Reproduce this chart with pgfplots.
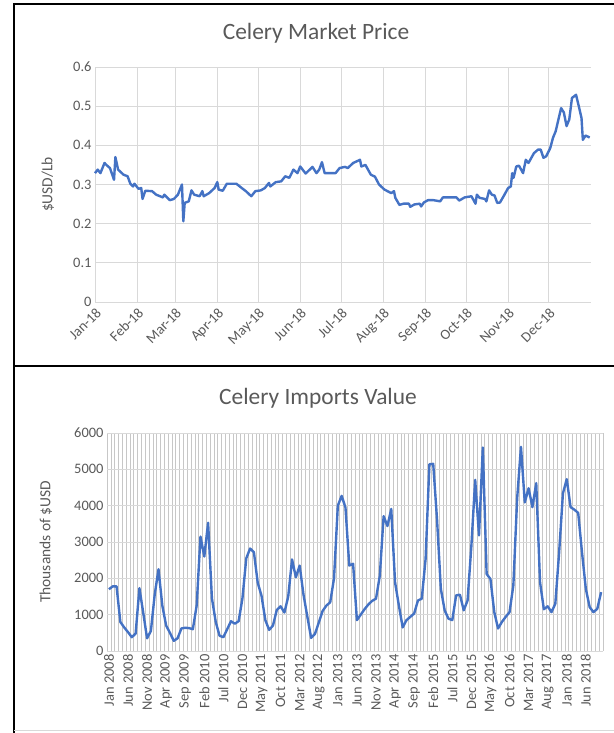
\documentclass[border=0pt]{standalone}
\usepackage{fontspec}
\setmainfont{Carlito}
\usepackage{pgfplots}
\pgfplotsset{compat=1.18}
\definecolor{xlblue}{HTML}{4472C4}
\definecolor{xlgrid}{HTML}{D9D9D9}
\definecolor{xltext}{HTML}{595959}

\pgfplotsset{
  xlstyle/.style={
    scale only axis,
    anchor=south west,
    axis line style={draw=none},
    tick style={draw=none},
    tick label style={font=\fontsize{14.5}{14.5}\selectfont, text=xltext},
    label style={font=\fontsize{15.5}{15.5}\selectfont, text=xltext},
    /pgf/number format/assume math mode=true,
    /pgf/number format/1000 sep={},
    clip=false,
  }
}

\begin{document}
\begin{tikzpicture}
\path[use as bounding box] (0bp,0bp) rectangle (614bp,733bp);

% price chart
\begin{axis}[xlstyle,
  at={(95bp,431bp)}, width=496bp, height=235bp,
  xmin=0, xmax=365, ymin=0, ymax=0.6,
  xtick={0,31,59,90,120,151,181,212,243,273,304,334},
  xticklabels={Jan-18,Feb-18,Mar-18,Apr-18,May-18,Jun-18,Jul-18,Aug-18,Sep-18,Oct-18,Nov-18,Dec-18},
  x tick label style={rotate=45, anchor=north east},
  ytick={0,0.1,0.2,0.3,0.4,0.5,0.6},
  yticklabel style={/pgf/number format/fixed, /pgf/number format/precision=1},
  grid=major, grid style={xlgrid, line width=0.9bp},
  ylabel={\$USD/Lb},
  ylabel style={at={(axis description cs:-0.095,0.5)}, anchor=center},
]
\addplot[xlblue, line width=2.4bp, line join=round] coordinates {
(0,0.329)(2,0.338)(4,0.329)(7,0.355)(9,0.348)(11,0.342)(14,0.312)(15,0.370)(17,0.338)
(21,0.325)(24,0.321)(26,0.302)(28,0.295)(29,0.302)(32,0.289)(34,0.291)(35,0.263)(37,0.284)
(42,0.283)(45,0.274)(50,0.267)(51,0.274)(55,0.260)(58,0.263)(61,0.274)(64,0.300)(65,0.206)
(66,0.253)(69,0.257)(71,0.285)(73,0.274)(77,0.270)(79,0.283)(80,0.270)(84,0.278)(88,0.291)
(90,0.306)(91,0.287)(94,0.284)(97,0.302)(104,0.302)(108,0.291)(111,0.283)(115,0.270)
(118,0.283)(122,0.285)(125,0.291)(128,0.304)(129,0.295)(133,0.306)(137,0.308)(140,0.321)
(143,0.317)(146,0.338)(149,0.329)(151,0.346)(155,0.328)(158,0.338)(160,0.345)(163,0.329)
(165,0.338)(167,0.357)(169,0.329)(177,0.329)(180,0.342)(184,0.345)(186,0.342)(190,0.355)
(195,0.363)(196,0.346)(199,0.350)(203,0.325)(206,0.320)(209,0.300)(213,0.287)(218,0.278)
(220,0.283)(221,0.266)(224,0.248)(227,0.251)(231,0.251)(232,0.243)(235,0.249)(239,0.251)
(240,0.244)(242,0.254)(245,0.260)(249,0.260)(254,0.257)(256,0.267)(266,0.267)(268,0.259)
(272,0.267)(277,0.270)(280,0.251)(281,0.274)(283,0.266)(287,0.263)(288,0.257)(290,0.285)
(292,0.274)(294,0.272)(296,0.253)(298,0.254)(301,0.272)(304,0.291)(306,0.295)(307,0.329)
(308,0.317)(310,0.346)(312,0.348)(315,0.329)(317,0.363)(319,0.355)(323,0.380)(326,0.389)
(328,0.389)(330,0.368)(332,0.372)(335,0.393)(337,0.419)(339,0.436)(343,0.495)(345,0.484)
(347,0.449)(349,0.466)(351,0.521)(354,0.529)(356,0.500)(358,0.470)(359,0.414)(361,0.425)
(364,0.420)
};
\end{axis}

% imports chart
\begin{axis}[xlstyle,
  at={(107bp,82bp)}, width=496bp, height=218bp,
  xmin=-0.5, xmax=129.5, ymin=0, ymax=6000,
  ytick={0,1000,2000,3000,4000,5000,6000},
  xtick={0,5,...,125},
  xticklabels={Jan 2008,Jun 2008,Nov 2008,Apr 2009,Sep 2009,Feb 2010,Jul 2010,Dec 2010,May 2011,Oct 2011,Mar 2012,Aug 2012,Jan 2013,Jun 2013,Nov 2013,Apr 2014,Sep 2014,Feb 2015,Jul 2015,Dec 2015,May 2016,Oct 2016,Mar 2017,Aug 2017,Jan 2018,Jun 2018},
  x tick label style={rotate=90, anchor=east},
  minor xtick={-0.5,0.5,...,129.5},
  xminorgrids, ymajorgrids,
  minor grid style={xlgrid!80!gray, line width=0.5bp},
  major grid style={xlgrid, line width=0.9bp},
  ylabel={Thousands of \$USD},
  ylabel style={at={(axis description cs:-0.123,0.5)}, anchor=center},
]
\addplot[xlblue, line width=2.4bp, line join=round] coordinates {
(0,1700)(1,1780)(2,1780)(3,800)(4,650)(5,520)(6,380)(7,480)(8,1730)(9,1050)
(10,350)(11,550)(12,1550)(13,2250)(14,1250)(15,700)(16,500)(17,280)(18,350)(19,620)
(20,640)(21,630)(22,600)(23,1250)(24,3150)(25,2600)(26,3530)(27,1450)(28,800)(29,420)
(30,380)(31,600)(32,820)(33,750)(34,820)(35,1450)(36,2550)(37,2820)(38,2720)(39,1880)
(40,1520)(41,850)(42,580)(43,700)(44,1130)(45,1230)(46,1060)(47,1500)(48,2520)(49,2030)
(50,2350)(51,1550)(52,950)(53,360)(54,470)(55,780)(56,1100)(57,1250)(58,1340)(59,2000)
(60,4000)(61,4270)(62,3950)(63,2350)(64,2400)(65,850)(66,1000)(67,1150)(68,1280)(69,1380)
(70,1440)(71,2070)(72,3710)(73,3440)(74,3910)(75,1890)(76,1250)(77,650)(78,850)(79,940)
(80,1030)(81,1390)(82,1440)(83,2530)(84,5140)(85,5150)(86,3620)(87,1710)(88,1120)(89,890)
(90,850)(91,1530)(92,1550)(93,1120)(94,1390)(95,2890)(96,4710)(97,3180)(98,5600)(99,2120)
(100,1980)(101,1070)(102,620)(103,800)(104,940)(105,1070)(106,1800)(107,4200)(108,5620)(109,4090)
(110,4480)(111,3960)(112,4620)(113,1890)(114,1150)(115,1230)(116,1070)(117,1300)(118,2710)(119,4340)
(120,4730)(121,3960)(122,3890)(123,3800)(124,2710)(125,1710)(126,1210)(127,1070)(128,1160)(129,1620)
};
\end{axis}

\node[font=\fontsize{23.5}{23.5}\selectfont, text=xltext] at (316bp,700bp) {Celery Market Price};
\node[font=\fontsize{23.5}{23.5}\selectfont, text=xltext] at (318bp,335bp) {Celery Imports Value};

% chart frames
\draw[line width=2.5bp] (614bp,729bp) -- (14bp,729bp) -- (14bp,0bp);
\draw[line width=2.5bp] (14bp,367bp) -- (614bp,367bp);
\draw[xlgrid, line width=1bp] (14bp,2.5bp) -- (614bp,2.5bp);
\end{tikzpicture}
\end{document}
